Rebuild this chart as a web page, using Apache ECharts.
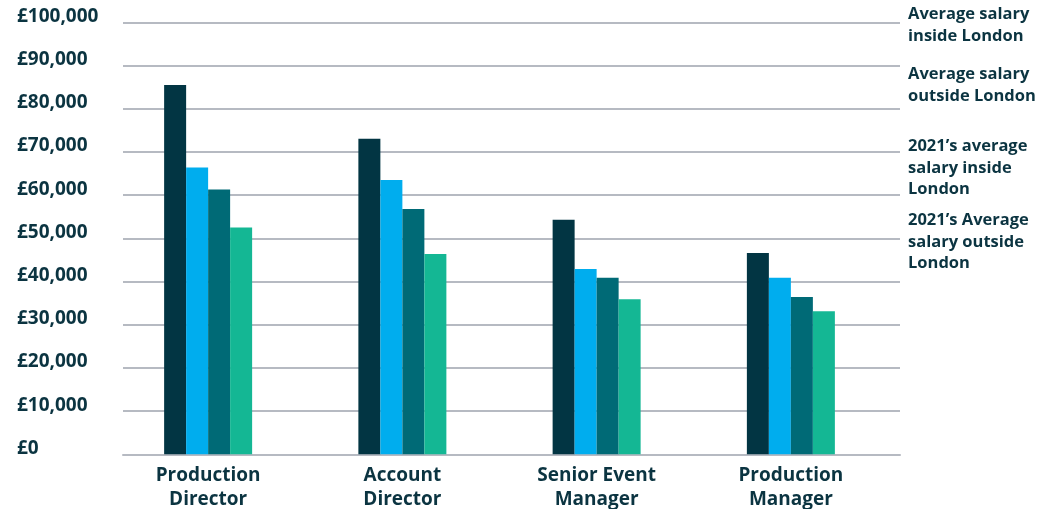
<!DOCTYPE html>
<html>
<head>
<meta charset="utf-8">
<title>Salaries</title>
<script src="https://cdn.jsdelivr.net/npm/echarts/dist/echarts.min.js"></script>
<style>
  html, body { margin: 0; padding: 0; background: #fff; }
  #chart { width: 1044px; height: 509px; }
</style>
</head>
<body>
<div id="chart"></div>
<script>
// job titles on the x axis
const categories = ['Production\nDirector', 'Account\nDirector', 'Senior Event\nManager', 'Production\nManager']
// series names + how they are broken in the legend
const seriesNames = [
  'Average salary inside London',
  'Average salary outside London',
  '2021\u2019s average salary inside London',
  '2021\u2019s Average salary outside London'
]
const legendLabels = [
  'Average salary\ninside London',
  'Average salary\noutside London',
  '2021\u2019s average\nsalary inside\nLondon',
  '2021\u2019s Average\nsalary outside\nLondon'
]
// values
const insideLondon = [85500, 73100, 54300, 46600]
const outsideLondon = [66400, 63500, 42900, 40900]
const insideLondon2021 = [61300, 56800, 40900, 36400]
const outsideLondon2021 = [52500, 46400, 35900, 33100]
const yTickLabels = ['£0', '£10,000', '£20,000', '£30,000', '£40,000', '£50,000', '£60,000', '£70,000', '£80,000', '£90,000', '£100,000']

const colors = ['#023543', '#00adee', '#006a76', '#14b794']
const textColor = '#0b3441'
const gridColor = '#b6bac2'
const font = '"Open Sans", "Noto Sans", sans-serif'

const allData = [insideLondon, outsideLondon, insideLondon2021, outsideLondon2021]
const legendTops = [4, 64, 136, 210]

const chart = echarts.init(document.getElementById('chart'))

const option = {
  animation: false,
  textStyle: { fontFamily: font },
  // grid 0 holds the gridlines and y labels, grid 1 holds the bars
  grid: [
    { left: 123, right: 144, top: 22.5, bottom: 54.7, outerBoundsMode: 'none' },
    { left: 111, right: 156, top: 22.5, bottom: 54.7, outerBoundsMode: 'none' }
  ],
  xAxis: [
    {
      gridIndex: 0,
      type: 'category',
      data: categories,
      axisLine: { show: true, lineStyle: { color: gridColor, width: 2 } },
      axisTick: { show: false },
      axisLabel: { show: false }
    },
    {
      gridIndex: 1,
      type: 'category',
      data: categories,
      axisLine: { show: false },
      axisTick: { show: false },
      axisLabel: {
        color: textColor,
        fontWeight: 'bold',
        fontSize: 19,
        fontFamily: font,
        lineHeight: 24,
        margin: 9
      }
    }
  ],
  yAxis: [
    {
      gridIndex: 0,
      type: 'value',
      min: 0,
      max: 100000,
      interval: 10000,
      axisLine: { show: false },
      axisTick: { show: false },
      splitLine: { lineStyle: { color: gridColor, width: 2 } },
      axisLabel: {
        formatter: (v) => yTickLabels[Math.round(v / 10000)],
        color: textColor,
        fontWeight: 'bold',
        fontSize: 19,
        fontFamily: font,
        align: 'left',
        verticalAlign: 'bottom',
        lineHeight: 12,
        margin: 106
      }
    },
    {
      gridIndex: 1,
      type: 'value',
      min: 0,
      max: 100000,
      show: false
    }
  ],
  // one legend per item, because the gaps between them are uneven
  legend: seriesNames.map((name, index) => {
    return {
      data: [name],
      orient: 'vertical',
      left: 903,
      top: legendTops[index],
      padding: 0,
      icon: 'none',
      itemWidth: 0,
      selectedMode: false,
      formatter: () => legendLabels[index],
      textStyle: {
        color: textColor,
        fontWeight: 'bold',
        fontSize: 16.5,
        fontFamily: font,
        lineHeight: 21.5
      }
    }
  }),
  series: allData.map((data, index) => {
    return {
      name: seriesNames[index],
      type: 'bar',
      xAxisIndex: 1,
      yAxisIndex: 1,
      data: data,
      barWidth: 22,
      barGap: '0%',
      itemStyle: { color: colors[index] }
    }
  })
}
chart.setOption(option)
</script>
</body>
</html>
